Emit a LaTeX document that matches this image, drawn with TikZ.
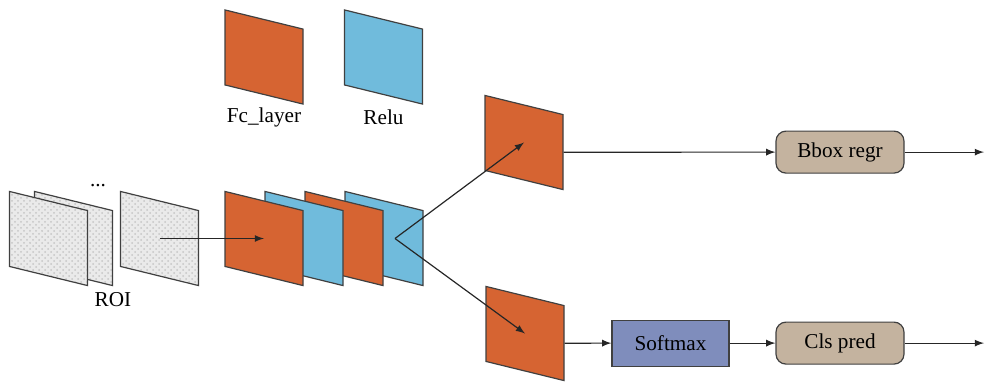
\documentclass[tikz,border=0pt]{standalone}
\usepackage{fontspec}
\setmainfont{Liberation Serif}
\newfontfamily\labelfont{Liberation Serif}
\usepackage{tikz}
\usetikzlibrary{arrows, patterns, positioning}
\definecolor{fcorange}{RGB}{214, 100, 50}
\definecolor{relublue}{RGB}{112, 187, 220}
\definecolor{softblue}{RGB}{127, 141, 188}
\definecolor{headtan}{RGB}{196, 179, 159}
\definecolor{roigray}{RGB}{234, 234, 234}
\tikzset{
    sheetnode/.style = {draw=black!75, line width=0.6pt, rectangle, inner sep=0em,
      minimum width=39pt, minimum height=37.5pt, node distance=0em},
    slanted/.style = {yslant=-0.245, transform shape},
    roinode/.style = {sheetnode, preaction={fill=roigray}, pattern=crosshatch dots, pattern color=gray!45},
    roundnode/.style = {draw=black!75, line width=0.6pt, rectangle, rounded corners=5pt, fill=headtan,
      minimum width=64pt, minimum height=21pt, inner sep=0em, node distance=0em,
      font=\labelfont\fontsize{10.6}{12}\selectfont},
    boxnode/.style = {draw=black!75, line width=0.6pt, rectangle, fill=softblue,
      minimum width=58.5pt, minimum height=23pt, inner sep=0em, node distance=0em,
      font=\labelfont\fontsize{10.6}{12}\selectfont},
    textnode/.style = {draw=none, fill=none, rectangle, inner sep=0em, node distance=0em,
      font=\labelfont\fontsize{10.6}{12}\selectfont},
    pointnode/.style = {node distance=0em},
    connect/.style = {black!85, line width=0.6pt, -latex}
}

\begin{document}
\begin{tikzpicture}
\useasboundingbox (0pt,0pt) rectangle (493.5pt,-190.5pt);

% legend
\node [name=fcleg, sheetnode, fill=fcorange, slanted] at (132pt,-28.5pt) {};
\node [name=reluleg, right of=fcleg, xshift=59.75pt, sheetnode, fill=relublue, slanted] {};
\node [textnode, name=fclabel, below of=fcleg, yshift=-30pt] {Fc\_layer};
\node [textnode, name=relulabel, below of=reluleg, yshift=-30pt] {Relu};

% ROI sheets
\node [name=roi2, roinode, slanted] at (36.75pt,-119.25pt) {};
\node [name=roi1, left of=roi2, xshift=-12.5pt, roinode, slanted] {};
\node [name=roi3, right of=roi2, xshift=43pt, roinode, slanted] {};
\node [textnode, name=dots, right of=roi1, xshift=24.75pt, yshift=26.25pt] {...};
\node [textnode, name=roi, right of=roi1, xshift=32.25pt, yshift=-30.75pt] {ROI};

% fc / relu stack
\node [name=relu2, right of=roi3, xshift=112.25pt, sheetnode, fill=relublue, slanted] {};
\node [name=fc2, left of=relu2, xshift=-20pt, sheetnode, fill=fcorange, slanted] {};
\node [name=relu1, left of=fc2, xshift=-20pt, sheetnode, fill=relublue, slanted] {};
\node [name=fc1, left of=relu1, xshift=-20pt, sheetnode, fill=fcorange, slanted] {};
\coordinate [pointnode, right of=relu2, xshift=5.5pt] (fork);

% two heads
\node [name=fcup, right of=relu2, xshift=70pt, yshift=48pt, sheetnode, fill=fcorange, slanted] {};
\node [name=fcdown, right of=relu2, xshift=70.5pt, yshift=-47.5pt, sheetnode, fill=fcorange, slanted] {};

\node [roundnode, name=bbox, right of=fcup, xshift=158pt, yshift=-4.8pt] {Bbox regr};
\node [boxnode, name=softmax, right of=fcdown, xshift=72.75pt, yshift=-4.8pt] {Softmax};
\node [roundnode, name=cls, right of=softmax, xshift=84.75pt] {Cls pred};
\coordinate [pointnode, right of=bbox, xshift=72pt] (bboxout);
\coordinate [pointnode, right of=cls, xshift=72pt] (clsout);

\draw [connect] (roi3.center) -- (fc1.center);
\draw [connect] (fork) -- (fcup.center);
\draw [connect] (fork) -- (fcdown.center);
\draw [connect] (fcup.east) -- (bbox.west);
\draw [connect] (bbox.east) -- (bboxout);
\draw [connect] (fcdown.east) -- (softmax.west);
\draw [connect] (softmax.east) -- (cls.west);
\draw [connect] (cls.east) -- (clsout);
\end{tikzpicture}
\end{document}
